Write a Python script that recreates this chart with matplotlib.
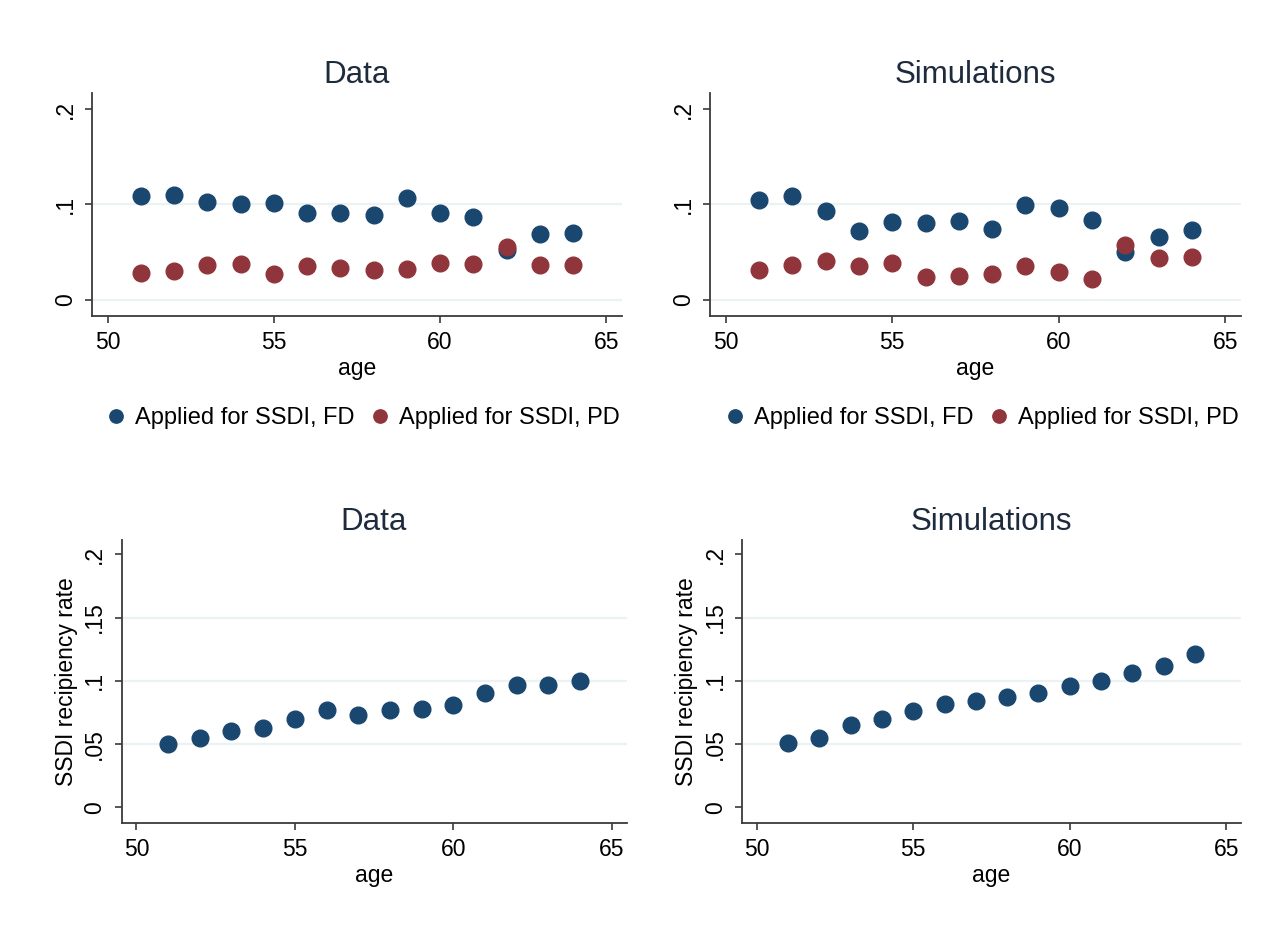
import matplotlib.pyplot as plt

# ages on the x axis
age = list(range(51, 65))

# top row: share applying for SSDI (FD = full disability, PD = partial disability)
data_fd = [0.109, 0.110, 0.102, 0.100, 0.101, 0.091, 0.091, 0.089, 0.107, 0.091, 0.087, 0.052, 0.069, 0.070]
data_pd = [0.028, 0.030, 0.036, 0.037, 0.027, 0.035, 0.033, 0.031, 0.032, 0.039, 0.037, 0.055, 0.036, 0.036]
sim_fd = [0.105, 0.109, 0.093, 0.072, 0.082, 0.080, 0.083, 0.074, 0.099, 0.096, 0.084, 0.050, 0.066, 0.073]
sim_pd = [0.031, 0.036, 0.041, 0.035, 0.038, 0.024, 0.025, 0.027, 0.035, 0.029, 0.022, 0.057, 0.044, 0.045]

# bottom row: SSDI recipiency rate
data_rate = [0.050, 0.055, 0.060, 0.063, 0.070, 0.077, 0.073, 0.077, 0.078, 0.081, 0.090, 0.097, 0.097, 0.100]
sim_rate = [0.051, 0.055, 0.065, 0.070, 0.076, 0.082, 0.084, 0.087, 0.090, 0.096, 0.100, 0.106, 0.112, 0.121]

top_ticks = [0, 0.1, 0.2]
top_labels = ['0', '.1', '.2']
bot_ticks = [0, 0.05, 0.1, 0.15, 0.2]
bot_labels = ['0', '.05', '.1', '.15', '.2']
x_ticks = [50, 55, 60, 65]

plt.rcParams['font.family'] = ['Liberation Sans', 'DejaVu Sans']

navy = '#1a476f'
maroon = '#90353b'
gridc = '#eaf2f3'
axc = '#3a3a3a'
titlec = '#1e2b3c'

fig = plt.figure(figsize=(12.86, 9.34), dpi=100)
fig.patch.set_facecolor('white')


def style(ax, title, yticks, ylabels, grids, ylim):
    ax.set_xlim(49.53, 65.47)
    ax.set_ylim(*ylim)
    for g in grids:
        ax.axhline(g, color=gridc, lw=1.6, zorder=0)
    ax.spines['top'].set_visible(False)
    ax.spines['right'].set_visible(False)
    for s in ['left', 'bottom']:
        ax.spines[s].set_color(axc)
        ax.spines[s].set_linewidth(1.3)
    ax.set_xticks(x_ticks)
    ax.set_yticks(yticks)
    ax.set_yticklabels(ylabels, rotation=90, va='center')
    ax.tick_params(axis='both', direction='out', length=5, width=1.2, color=axc,
                   labelsize=16.5, pad=6)
    ax.set_xlabel('age', fontsize=16.5, labelpad=2)
    ax.set_title(title, fontsize=22.5, color=titlec, pad=7)


ax1 = fig.add_axes([0.0715, 0.662, 0.4121, 0.2384])
ax1.plot(age, data_fd, 'o', color=navy, ms=12, label='Applied for SSDI, FD')
ax1.plot(age, data_pd, 'o', color=maroon, ms=12, label='Applied for SSDI, PD')
style(ax1, 'Data', top_ticks, top_labels, [0, 0.1], (-0.0168, 0.2168))

ax2 = fig.add_axes([0.5521, 0.662, 0.4129, 0.2384])
ax2.plot(age, sim_fd, 'o', color=navy, ms=12, label='Applied for SSDI, FD')
ax2.plot(age, sim_pd, 'o', color=maroon, ms=12, label='Applied for SSDI, PD')
style(ax2, 'Simulations', top_ticks, top_labels, [0, 0.1], (-0.0168, 0.2168))

for ax in [ax1, ax2]:
    ax.legend(loc='center', bbox_to_anchor=(0.51, -0.46), ncol=2, frameon=False,
              fontsize=17, handletextpad=0.3, columnspacing=0.6, markerscale=0.8,
              handlelength=1.0)

ax3 = fig.add_axes([0.0945, 0.1192, 0.3927, 0.3026])
ax3.plot(age, data_rate, 'o', color=navy, ms=12)
style(ax3, 'Data', bot_ticks, bot_labels, [0.05, 0.1, 0.15], (-0.0122, 0.2113))
ax3.set_ylabel('SSDI recipiency rate', fontsize=16.5, labelpad=4)

ax4 = fig.add_axes([0.577, 0.1192, 0.388, 0.3026])
ax4.plot(age, sim_rate, 'o', color=navy, ms=12)
style(ax4, 'Simulations', bot_ticks, bot_labels, [0.05, 0.1, 0.15], (-0.0122, 0.2113))
ax4.set_ylabel('SSDI recipiency rate', fontsize=16.5, labelpad=4)

fig.savefig('out.png', dpi=100, facecolor='white')
